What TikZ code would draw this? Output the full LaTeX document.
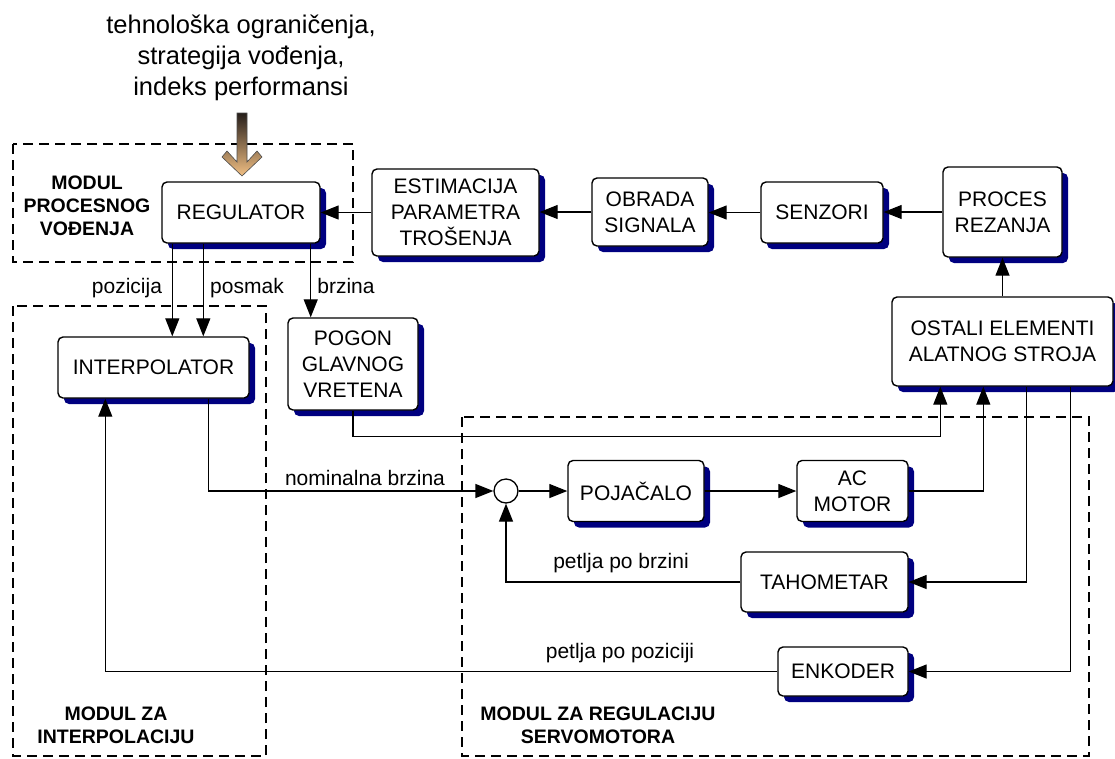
\documentclass[tikz,border=0pt]{standalone}
\usepackage{fontspec}
\setmainfont{Liberation Sans}
\usetikzlibrary{arrows.meta,shadows,calc}
\definecolor{sjena}{RGB}{0,0,128}
\definecolor{strelicagore}{RGB}{38,30,26}
\definecolor{strelicadolje}{RGB}{242,192,132}
\newcommand{\tekstvel}{\fontsize{21}{26}\selectfont}
\tikzset{blok/.style={draw,line width=1.4pt,rounded corners=5pt,fill=white,align=center,inner sep=0pt,font=\tekstvel,
  drop shadow={shadow xshift=6pt,shadow yshift=-6pt,fill=sjena,opacity=1}}}
\tikzset{veza/.style={line width=1.3pt,-{Triangle[length=18pt,width=14pt]}}}
\tikzset{modul/.style={line width=2.5pt,dash pattern=on 10pt off 6pt}}
\tikzset{oznaka/.style={font=\tekstvel,anchor=base,inner sep=0pt}}
\tikzset{naslov/.style={font=\fontsize{19.5}{23}\selectfont\bfseries,align=center,inner sep=0pt}}
\begin{document}
\begin{tikzpicture}[x=1pt,y=-1pt]
		\useasboundingbox (0,0) rectangle (1115,758);
		% moduli
		\draw [modul] (13,144) rectangle (353,262);
		\draw [modul] (13,306) rectangle (266,756);
		\draw [modul] (462,417) rectangle (1089,756);
		\node [naslov] (mpv) at (87,205.5) {MODUL\\PROCESNOG\\VOĐENJA};
		\node [naslov] (mzi) at (116,725.5) {MODUL ZA\\INTERPOLACIJU};
		\node [naslov] (mzr) at (598,725.5) {MODUL ZA REGULACIJU\\SERVOMOTORA};
		
		\node [align=center,inner sep=0pt,font=\fontsize{25.5}{31}\selectfont] (ulaz) at (241,57.5)
			{tehnološka ograničenja,\\strategija vođenja,\\indeks performansi};
		\shade [top color=strelicagore,bottom color=strelicadolje,draw=gray!60!black,line width=0.6pt]
			(237,113) -- (247,113) -- (247,162) -- (257,151) -- (262,157) -- (242,176)
			-- (222,157) -- (227,151) -- (237,162) -- cycle;
		
		% blokovi
		\node [blok,minimum width=158pt,minimum height=61pt] (reg) at (241,212.5) {REGULATOR};
		\node [blok,minimum width=167pt,minimum height=87pt] (est) at (455.5,212.5) {ESTIMACIJA\\PARAMETRA\\TROŠENJA};
		\node [blok,minimum width=116pt,minimum height=68pt] (obr) at (650,212) {OBRADA\\SIGNALA};
		\node [blok,minimum width=122pt,minimum height=61pt] (sen) at (822,212.5) {SENZORI};
		\node [blok,minimum width=119pt,minimum height=90pt] (proc) at (1002.5,212) {PROCES\\REZANJA};
		\node [blok,minimum width=221pt,minimum height=89pt] (ost) at (1002.5,341.5) {OSTALI ELEMENTI\\ALATNOG STROJA};
		\node [blok,minimum width=191pt,minimum height=61pt] (interp) at (153.5,367.5) {INTERPOLATOR};
		\node [blok,minimum width=130pt,minimum height=92pt] (pogon) at (353,364) {POGON\\GLAVNOG\\VRETENA};
		\node [draw,circle,fill=white,line width=1.3pt,minimum size=24pt,inner sep=0pt] (sum) at (506,491) {};
		\node [blok,minimum width=136pt,minimum height=61pt] (poj) at (636,491) {POJAČALO};
		\node [blok,minimum width=111pt,minimum height=61pt] (acm) at (852.5,491) {AC\\MOTOR};
		\node [blok,minimum width=167pt,minimum height=60pt] (taho) at (824.5,582) {TAHOMETAR};
		\node [blok,minimum width=130pt,minimum height=49pt] (enk) at (843,671.5) {ENKODER};
		
		% veze
		\draw [veza] (est.west) -- (reg.east);
		\draw [veza] (obr.west) -- (obr.west -| est.east);
		\draw [veza] (sen.west) -- (sen.west -| obr.east);
		\draw [veza] (proc.west) -- (proc.west -| sen.east);
		\draw [veza] (ost.north) -- (proc.south);
		\draw [veza] ([xshift=11pt]reg.south west) -- ([xshift=11pt]reg.south west |- interp.north);
		\draw [veza] ([xshift=42pt]reg.south west) -- ([xshift=42pt]reg.south west |- interp.north);
		\draw [veza] ([xshift=-10pt]reg.south east) -- ([xshift=-10pt]reg.south east |- pogon.north);
		\draw [veza] (pogon.south) -- ++(0,26) -| ([xshift=49pt]ost.south west);
		\draw [veza] ([xshift=151pt]interp.south west) |- (sum.west);
		\draw [veza] (sum.east) -- (poj.west);
		\draw [veza] (poj.east) -- (acm.west);
		\draw [veza] (acm.east) -| ([xshift=92pt]ost.south west);
		\draw [veza] ([xshift=135pt]ost.south west) |- (taho.east);
		\draw [veza] ([xshift=179pt]ost.south west) |- (enk.east);
		\draw [veza] (taho.west) -| (sum.south);
		\draw [veza] (enk.west) -| ([xshift=48pt]interp.south west);
		
		\node [oznaka] (lpoz) at (127,293) {pozicija};
		\node [oznaka] (lpos) at (247,293) {posmak};
		\node [oznaka] (lbrz) at (346,293) {brzina};
		\node [oznaka] (lnom) at (365,485) {nominalna brzina};
		\node [oznaka] (lpb) at (621,568) {petlja po brzini};
		\node [oznaka] (lpp) at (620,658) {petlja po poziciji};
	\end{tikzpicture}
\end{document}
